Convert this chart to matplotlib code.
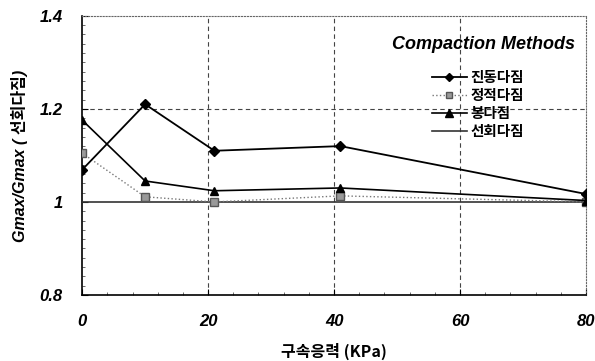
import matplotlib
matplotlib.use("Agg")
import matplotlib.pyplot as plt
from matplotlib.ticker import MultipleLocator

plt.rcParams['font.family'] = ['Liberation Sans', 'Noto Sans CJK KR', 'DejaVu Sans']
plt.rcParams['font.style'] = 'italic'
plt.rcParams['font.weight'] = 'bold'

x_vib = [0, 10, 21, 41, 80]
y_vib = [1.069, 1.21, 1.11, 1.12, 1.017]
x_sta = [0, 10, 21, 41, 80]
y_sta = [1.105, 1.011, 1.0, 1.013, 1.0]
x_rod = [0, 10, 21, 41, 80]
y_rod = [1.176, 1.045, 1.024, 1.03, 1.003]
x_gyr = [0, 80]
y_gyr = [1.0, 1.0]
labels = ['진동다짐', '정적다짐', '봉다짐', '선회다짐']
xticks = [0, 20, 40, 60, 80]
xtick_labels = ['0', '20', '40', '60', '80']
yticks = [0.8, 1.0, 1.2, 1.4]
ytick_labels = ['0.8', '1', '1.2', '1.4']

fig = plt.figure(figsize=(5.95, 3.61), dpi=100)
ax = fig.add_axes([0.138, 0.183, 0.847, 0.773])

ax.plot(x_vib, y_vib, color='black', lw=1.3, marker='D', ms=4.8, label=labels[0], zorder=5)
ax.plot(x_sta, y_sta, color='#777777', lw=1.0, ls=':', marker='s', ms=5.5,
        markerfacecolor='#999999', markeredgecolor='#555555', label=labels[1], zorder=4)
ax.plot(x_rod, y_rod, color='black', lw=1.2, marker='^', ms=6, label=labels[2], zorder=5)
ax.plot(x_gyr, y_gyr, color='#333333', lw=1.2, label=labels[3], zorder=3)

ax.set_xlim(0, 80)
ax.set_ylim(0.8, 1.4)
ax.set_xticks(xticks)
ax.set_yticks(yticks)
ax.xaxis.set_minor_locator(MultipleLocator(4))
ax.yaxis.set_minor_locator(MultipleLocator(0.02))
ax.tick_params(axis='both', which='major', direction='in', length=4, pad=14)
ax.tick_params(axis='both', which='minor', direction='in', length=2.5, color='#555555')
ax.set_xticklabels(xtick_labels, fontsize=12, fontstyle='italic', fontweight='heavy',
                   family='Liberation Sans')
ax.set_yticklabels(ytick_labels, fontsize=12, fontstyle='italic', fontweight='heavy',
                   family='Liberation Sans')

for xv in [20, 40, 60]:
    ax.axvline(xv, color='#444444', lw=0.8, ls=(0, (4, 3)), zorder=1)
ax.axhline(1.2, color='#444444', lw=0.8, ls=(0, (4, 3)), zorder=1)

for s in ['top', 'right']:
    ax.spines[s].set_linestyle(':')
    ax.spines[s].set_color('#666666')
ax.spines['left'].set_linewidth(1.2)
ax.spines['bottom'].set_linewidth(1.2)

ax.set_xlabel('구속응력 (KPa)', fontsize=11.5, fontstyle='italic', fontweight='bold',
              family=['Noto Sans CJK KR', 'Liberation Sans'], labelpad=10)
ax.set_ylabel('Gmax/Gmax ( 선회다짐)', fontsize=11.5, fontstyle='italic', fontweight='bold',
              family=['Liberation Sans', 'Noto Sans CJK KR'], labelpad=8)

ax.text(0.978, 0.896, 'Compaction Methods', transform=ax.transAxes, ha='right', va='center',
        fontsize=13, fontweight='bold', fontstyle='italic')

ax.legend(loc='upper left', bbox_to_anchor=(0.694, 0.81), frameon=False,
          handlelength=2.4, handletextpad=0.25, labelspacing=0.15, borderaxespad=0.0,
          borderpad=0.0, markerscale=0.85,
          prop={'family': ['Noto Sans CJK KR'], 'size': 10.5, 'weight': 'bold',
                'style': 'normal'})

fig.savefig('out.png', dpi=100)
